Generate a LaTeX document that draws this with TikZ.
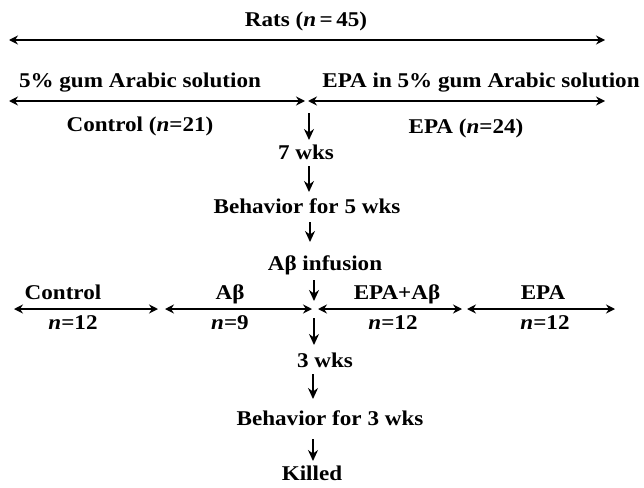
\documentclass[tikz,border=0pt]{standalone}
\usepackage{fontspec}
\setmainfont[FakeStretch=1.1]{Liberation Serif}
\usetikzlibrary{arrows.meta}
\begin{document}
\begin{tikzpicture}[x=1pt,y=-1pt,
  lbl/.style={anchor=base,inner sep=0pt,font=\fontsize{21}{25}\selectfont\bfseries},
  conn/.style={line width=1.5pt,{Stealth[length=9pt,width=9pt]}-{Stealth[length=9pt,width=9pt]}},
  down/.style={line width=1.5pt,-{Stealth[length=11pt,width=10pt]}}]
\useasboundingbox (0,0) rectangle (644,487);
% top
\node[lbl] (rats) at (306,27) {Rats (\textit{n}\,=\,45)};
\coordinate (t1) at (9,40); \coordinate (t2) at (605,40);
\draw[conn] (t1) -- (t2);
% second level
\node[lbl] (gum) at (140,87) {5\% gum Arabic solution};
\node[lbl] (epagum) at (481,87) {EPA in 5\% gum Arabic solution};
\coordinate (s1) at (9,101); \coordinate (s2) at (305,101);
\coordinate (s3) at (308,101); \coordinate (s4) at (605,101);
\draw[conn] (s1) -- (s2);
\draw[conn] (s3) -- (s4);
\node[lbl] (ctl) at (140,131) {Control (\textit{n}=21)};
\node[lbl] (epa) at (466,133) {EPA (\textit{n}=24)};
% timeline
\node[lbl] (w7) at (306,159) {7 wks};
\node[lbl] (b5) at (307,213) {Behavior for 5 wks};
\node[lbl] (inf) at (325,270) {Aβ infusion};
\coordinate (d0) at (309,113); \coordinate (d0e) at (309,140);
\coordinate (a1) at (309,166); \coordinate (a1e) at (309,192);
\coordinate (a2) at (310,222); \coordinate (a2e) at (310,242);
\coordinate (a3) at (314,280); \coordinate (a3e) at (314,301);
\draw[down] (d0) -- (d0e);
\draw[down] (a1) -- (a1e);
\draw[down] (a2) -- (a2e);
\draw[down] (a3) -- (a3e);
% groups
\coordinate (g1) at (14,309); \coordinate (g2) at (158,309);
\coordinate (g3) at (165,309); \coordinate (g4) at (312,309);
\coordinate (g5) at (318,309); \coordinate (g6) at (462,309);
\coordinate (g7) at (467,309); \coordinate (g8) at (615,309);
\draw[conn] (g1) -- (g2);
\draw[conn] (g3) -- (g4);
\draw[conn] (g5) -- (g6);
\draw[conn] (g7) -- (g8);
\node[lbl] (c1) at (63,299) {Control};
\node[lbl] (c2) at (230,299) {Aβ};
\node[lbl] (c3) at (397,299) {EPA+Aβ};
\node[lbl] (c4) at (543,299) {EPA};
\node[lbl] (n1) at (73,329) {\textit{n}=12};
\node[lbl] (n2) at (230,329) {\textit{n}=9};
\node[lbl] (n3) at (393,329) {\textit{n}=12};
\node[lbl] (n4) at (545,329) {\textit{n}=12};
% lower timeline
\node[lbl] (w3) at (325,367) {3 wks};
\node[lbl] (b3) at (330,425) {Behavior for 3 wks};
\node[lbl] (kil) at (312,480) {Killed};
\coordinate (a4) at (314,318); \coordinate (a4e) at (314,345);
\coordinate (a5) at (313,374); \coordinate (a5e) at (313,399);
\coordinate (a6) at (313,439); \coordinate (a6e) at (313,461);
\draw[down] (a4) -- (a4e);
\draw[down] (a5) -- (a5e);
\draw[down] (a6) -- (a6e);
\end{tikzpicture}
\end{document}
